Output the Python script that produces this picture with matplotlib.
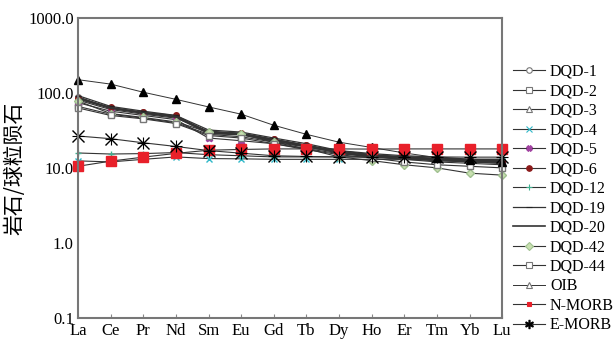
import numpy as np
import matplotlib.pyplot as plt
from matplotlib.lines import Line2D

plt.rcParams['font.family'] = ['Liberation Serif', 'Noto Sans CJK SC']

elements = ['La', 'Ce', 'Pr', 'Nd', 'Sm', 'Eu', 'Gd', 'Tb', 'Dy', 'Ho', 'Er', 'Tm', 'Yb', 'Lu']

dqd_1 = [89, 62, 55, 48, 30, 28, 24, 20, 16, 14, 13, 12, 11.5, 11]
dqd_2 = [66, 52, 46, 40, 28, 26, 22, 19, 16, 14.5, 13.5, 12.5, 12, 11.5]
dqd_3 = [80, 60, 52, 46, 31, 29, 24, 20, 17, 15, 14, 13, 12.5, 12]
dqd_4 = [12.4, 12, 13, 14, 13.3, 13.2, 13, 13, 13, 13, 13, 13, 12.5, 12.5]
dqd_5 = [74, 57, 50, 44, 25, 23, 21, 18, 15.5, 14, 13, 12.5, 12, 11.5]
dqd_6 = [86, 64, 55, 50, 30, 29, 24, 20, 16.5, 15, 14, 13.5, 13, 12.5]
dqd_12 = [15.8, 15.3, 15.5, 16, 15, 14.5, 14, 14, 14, 14, 13.5, 13, 13, 13]
dqd_19 = [92, 66, 57, 50, 32, 30, 25, 21, 17, 15.5, 14.5, 14, 13, 13]
dqd_20 = [84, 63, 54, 48, 29, 28, 23, 19.5, 16, 14.5, 13.5, 13, 12.5, 12]
dqd_42 = [78, 53, 47, 41, 30, 28, 22, 18, 14, 12.5, 11, 10, 8.5, 8.0]
dqd_44 = [63, 50, 45, 39, 27, 25, 21, 17.5, 15, 13.5, 12, 11, 10.5, 10]
oib = [150, 131, 102, 82, 65, 52, 37, 28, 22, 18.7, 15.8, 13.7, 12.7, 11.8]
n_morb = [10.5, 12.3, 13.9, 15.6, 17.2, 17.6, 17.9, 17.9, 17.9, 17.8, 17.9, 17.9, 17.9, 17.9]
e_morb = [26.6, 24.5, 21.6, 19.3, 17, 15.7, 14.5, 14.2, 14, 14, 14, 14, 13.9, 13.9]

labels = ['DQD-1', 'DQD-2', 'DQD-3', 'DQD-4', 'DQD-5', 'DQD-6', 'DQD-12', 'DQD-19',
          'DQD-20', 'DQD-42', 'DQD-44', 'OIB', 'N-MORB', 'E-MORB']
series = [dqd_1, dqd_2, dqd_3, dqd_4, dqd_5, dqd_6, dqd_12, dqd_19,
          dqd_20, dqd_42, dqd_44, oib, n_morb, e_morb]

# marker, size, face, edge, line width
styles = [
    ('o', 4, 'white', '#777777', 0.8),
    ('s', 4, 'white', '#777777', 0.8),
    ('^', 4, 'white', '#777777', 0.8),
    ('x', 4, '#30b8c8', '#30b8c8', 0.8),
    ('X', 5, '#a040a0', '#a040a0', 0.8),
    ('o', 4, '#8b1a1a', '#8b1a1a', 0.8),
    ('+', 5, '#40b090', '#40b090', 0.8),
    ('_', 4, '#222222', '#222222', 0.9),
    ('', 0, 'none', 'none', 1.6),
    ('D', 4, '#c8e0b0', '#a0c090', 0.8),
    ('s', 4, 'white', '#777777', 0.8),
    ('^', 6, 'black', 'black', 0.7),
    ('s', 7, '#e8202a', '#e8202a', 0.8),
    ('x', 8, 'black', 'black', 0.8),
]

fig = plt.figure(figsize=(6.14, 3.44), dpi=100)
ax = fig.add_axes([0.127, 0.076, 0.691, 0.872])

x = np.arange(len(elements))
for vals, (m, ms, fc, ec, lw) in zip(series, styles):
    ax.plot(x, vals, color='#333333', lw=lw, marker=m, ms=ms,
            mfc=fc, mec=ec, mew=1.0, clip_on=False)
# asterisk for E-MORB: add plus on top of x
ax.plot(x, e_morb, ls='none', marker='+', ms=8, mec='black', mew=0.8, clip_on=False)

ax.set_yscale('log')
ax.set_ylim(0.1, 1000)
ax.set_xlim(0, len(elements) - 1)
ax.set_yticks([0.1, 1, 10, 100, 1000])
ax.set_yticklabels(['0.1', '1.0', '10.0', '100.0', '1000.0'], fontsize=12)
ax.yaxis.set_minor_locator(plt.NullLocator())
ax.set_xticks(x)
ax.set_xticklabels(elements, fontsize=12)
ax.tick_params(axis='x', direction='in', length=3, color='#888888', pad=4)
ax.tick_params(axis='y', length=0, pad=3)
for sp in ax.spines.values():
    sp.set_color('#777777')
    sp.set_linewidth(1.5)

ax.set_ylabel('岩石/球粒陨石', fontsize=15, family=['Noto Sans CJK SC'], labelpad=2)

handles = []
for lab, (m, ms, fc, ec, lw) in zip(labels, styles):
    lms = min(ms, 4) if m else 0
    if lab == 'OIB':
        fc, ec = 'white', '#777777'
    if lab == 'N-MORB':
        lms = 3
    if lab == 'E-MORB':
        m, lms = '$\\ast$', 6
        fc = ec = 'black'
    handles.append(Line2D([], [], color='#333333', lw=min(lw, 1.2), marker=m, ms=lms,
                          mfc=fc, mec=ec, mew=0.8))
fig.legend(handles, labels, loc='upper left', bbox_to_anchor=(0.836, 0.815),
           frameon=False, fontsize=11.5, handlelength=2.0, handletextpad=0.3,
           labelspacing=0.22, borderaxespad=0, borderpad=0)

fig.savefig('out.png', dpi=100)
